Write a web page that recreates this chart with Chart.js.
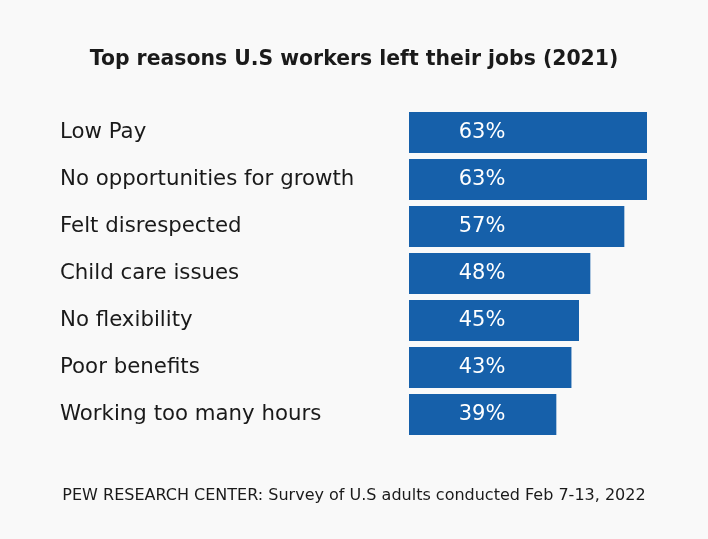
<!DOCTYPE html>
<html>
<head>
<meta charset="utf-8">
<script src="https://cdn.jsdelivr.net/npm/chart.js@4"></script>
<style>
  html, body { margin:0; padding:0; background:#f9f9f9; }
  #wrap { width:708px; height:539px; position:relative; }
</style>
</head>
<body>
<div id="wrap"><canvas id="chart"></canvas></div>
<script>
const reasons = ['Low Pay','No opportunities for growth','Felt disrespected','Child care issues','No flexibility','Poor benefits','Working too many hours'];
const shares = [63, 63, 57, 48, 45, 43, 39];
const TITLE = 'Top reasons U.S workers left their jobs (2021)';
const SOURCE = 'PEW RESEARCH CENTER: Survey of U.S adults conducted Feb 7-13, 2022';

const FONT = "'DejaVu Sans', sans-serif";
const INK = '#1a1a1a';

// white value labels near the start of each bar
const valueLabels = {
  id: 'valueLabels',
  afterDatasetsDraw(chart){
    const ctx = chart.ctx;
    const meta = chart.getDatasetMeta(0);
    ctx.save();
    ctx.font = '21px ' + FONT;
    ctx.fillStyle = '#ffffff';
    ctx.textAlign = 'center';
    ctx.textBaseline = 'middle';
    meta.data.forEach((bar, i) => {
      ctx.fillText(shares[i] + '%', bar.base + 73, bar.y + 0.5);
    });
    ctx.restore();
  }
};

// title + source line, centred on the whole canvas
const headings = {
  id: 'headings',
  afterDraw(chart){
    const ctx = chart.ctx;
    const cx = chart.width / 2;
    ctx.save();
    ctx.fillStyle = INK;
    ctx.textAlign = 'center';
    ctx.textBaseline = 'middle';
    ctx.font = 'bold 20.4px ' + FONT;
    ctx.fillText(TITLE, cx, 60);
    ctx.font = '16px ' + FONT;
    ctx.fillText(SOURCE, cx, 496);
    ctx.restore();
  }
};

new Chart(document.getElementById('chart'), {
  type: 'bar',
  data: {
    labels: reasons,
    datasets: [{ data: shares, backgroundColor: '#1660aa', borderWidth: 0, barPercentage: 0.872, categoryPercentage: 1 }]
  },
  options: {
    indexAxis: 'y',
    responsive: true,
    maintainAspectRatio: false,
    animation: false,
    layout: { padding: { left: 60, right: 61, top: 109, bottom: 101 } },
    scales: {
      x: { min: 0, max: 63, display: false },
      y: {
        grid: { display: false },
        border: { display: false },
        ticks: { crossAlign: 'far', color: INK, font: { family: FONT, size: 21.3 }, padding: 0 },
        afterFit(scale){ scale.width = 349; }
      }
    },
    plugins: {
      legend: { display: false },
      tooltip: { enabled: false }
    }
  },
  plugins: [valueLabels, headings]
});
</script>
</body>
</html>
